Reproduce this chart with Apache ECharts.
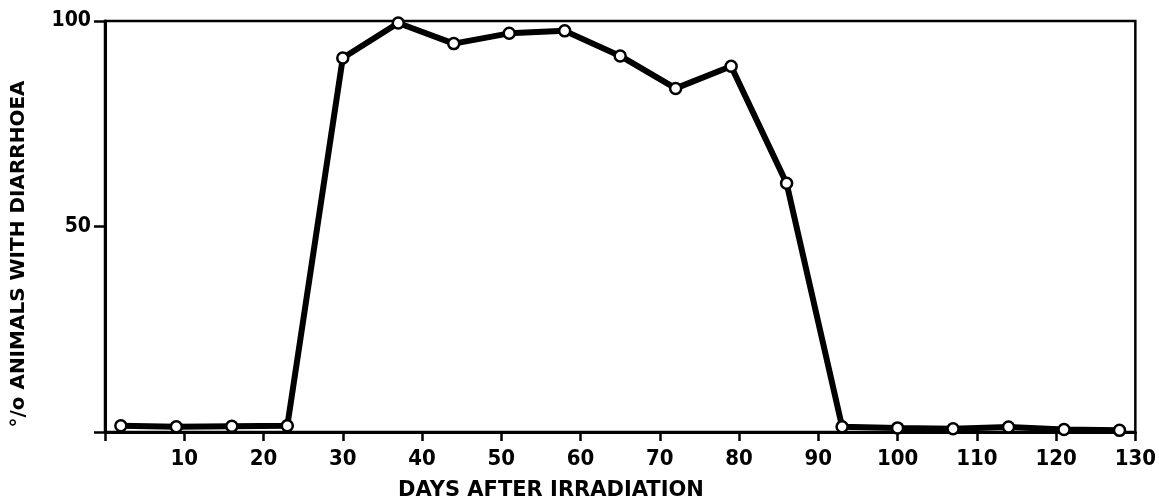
<!DOCTYPE html>
<html>
<head>
<meta charset="utf-8">
<script src="https://cdn.jsdelivr.net/npm/echarts@6/dist/echarts.min.js"></script>
<style>html,body{margin:0;padding:0;background:#fff}#c{width:1159px;height:501px}</style>
</head>
<body>
<div id="c"></div>
<script>
const days = [2, 9, 16, 23, 30, 37, 44, 51, 58, 65, 72, 79, 86, 93, 100, 107, 114, 121, 128];
const pctDiarrhoea = [1.5, 1.3, 1.4, 1.5, 91, 99.5, 94.5, 97, 97.6, 91.5, 83.6, 89, 60.5, 1.3, 1.0, 0.8, 1.2, 0.6, 0.4];
const xTickValues = [10, 20, 30, 40, 50, 60, 70, 80, 90, 100, 110, 120, 130];
const yLabelValues = [50, 100];
const xTitle = 'DAYS AFTER IRRADIATION';
const yTitle = '°/o ANIMALS WITH DIARRHOEA';

const tickFont = '"Liberation Sans Narrow", "DejaVu Sans Condensed", sans-serif';
const titleFont = '"DejaVu Sans", sans-serif';

const chart = echarts.init(document.getElementById('c'), null, {renderer: 'canvas'});
chart.setOption({
  animation: false,
  backgroundColor: '#fff',
  grid: {left: 105, right: 23, top: 21, bottom: 69, show: true, borderColor: '#000', borderWidth: 2.5, backgroundColor: 'transparent'},
  xAxis: {
    type: 'value', min: 0, max: 130, interval: 10,
    axisLine: {show: true, lineStyle: {color: '#000', width: 3}},
    axisTick: {show: true, length: 9, lineStyle: {color: '#000', width: 2.5}},
    splitLine: {show: false},
    axisLabel: {
      margin: 16, color: '#000', fontFamily: tickFont, fontWeight: 'bold', fontSize: 22,
      formatter: v => xTickValues.includes(v) ? String(v) : ''
    }
  },
  yAxis: {
    type: 'value', min: 0, max: 100, interval: 50,
    axisLine: {show: true, lineStyle: {color: '#000', width: 3}},
    axisTick: {show: true, length: 11, lineStyle: {color: '#000', width: 2.5}},
    splitLine: {show: false},
    axisLabel: {
      margin: 14, color: '#000', fontFamily: tickFont, fontWeight: 'bold', fontSize: 21,
      formatter: v => yLabelValues.includes(v) ? String(v) : ''
    }
  },
  graphic: [
    {type: 'text', left: 398, top: 480, style: {text: xTitle, font: 'bold 21px ' + titleFont, fill: '#000'}},
    {type: 'text', x: 19, y: 254, rotation: Math.PI / 2,
     style: {text: yTitle, font: 'bold 20px ' + titleFont, fill: '#000', align: 'center', verticalAlign: 'middle'}}
  ],
  series: [{
    type: 'line',
    data: days.map((d, i) => [d, pctDiarrhoea[i]]),
    lineStyle: {color: '#000', width: 6},
    symbol: 'circle', symbolSize: 11,
    itemStyle: {color: '#fff', borderColor: '#000', borderWidth: 2.5},
    z: 5
  }]
});
</script>
</body>
</html>
